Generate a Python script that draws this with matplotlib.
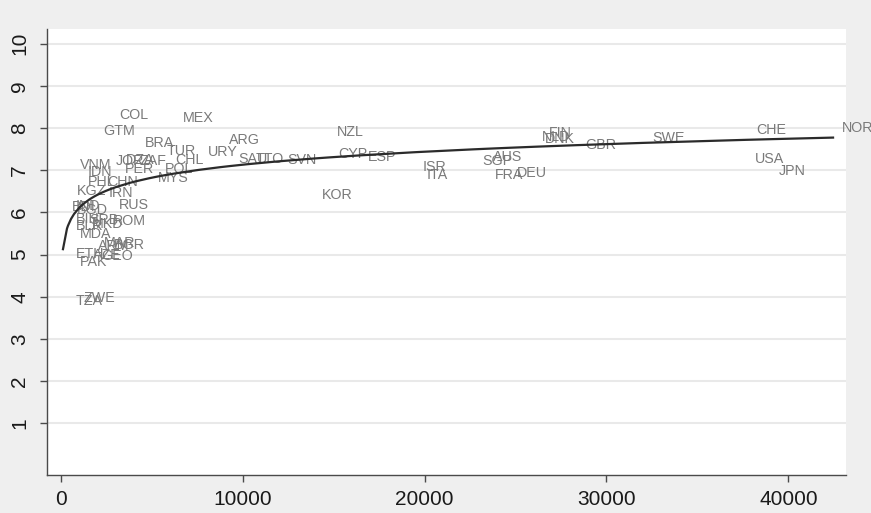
import matplotlib
matplotlib.use("Agg")
import matplotlib.pyplot as plt
import numpy as np

# GDP per capita (x), life satisfaction (y), country code labels
countries = [
    "COL", "MEX", "GTM", "NZL", "BRA", "ARG", "TUR", "URY", "CHL", "SAU",
    "TTO", "SVN", "CYP", "ESP", "VNM", "JOR", "DZA", "ZAF", "PER", "POL",
    "MYS", "IDN", "PHL", "CHN", "KGZ", "IRN", "RUS", "IND", "BDI", "BGD",
    "BIH", "SRB", "ROM", "BLR", "MKD", "MDA", "ARM", "MAR", "BGR", "ETH",
    "AZE", "GEO", "PAK", "ZWE", "TZA", "KOR", "ISR", "ITA", "SGP", "AUS",
    "FRA", "DEU", "FIN", "NLD", "DNK", "GBR", "SWE", "CHE", "USA", "JPN",
    "NOR",
]
gdp = [
    2695, 6215, 1815, 14685, 4125, 8745, 5335, 7590, 5775, 9240,
    10230, 11935, 14740, 16390, 550, 2530, 3080, 3795, 3025, 5225,
    4840, 990, 990, 2035, 385, 2145, 2695, 330, 110, 385,
    330, 1045, 2365, 330, 1210, 550, 1540, 1870, 2420, 330,
    1265, 1705, 550, 715, 330, 13860, 19415, 19635, 22660, 23265,
    23375, 24585, 26345, 25960, 26125, 28325, 32010, 37730, 37675, 38995,
    42460,
]
satisfaction = [
    8.31, 8.23, 7.93, 7.90, 7.64, 7.71, 7.45, 7.43, 7.24, 7.26,
    7.26, 7.24, 7.38, 7.31, 7.12, 7.22, 7.24, 7.22, 7.03, 7.03,
    6.81, 6.95, 6.72, 6.72, 6.50, 6.46, 6.17, 6.15, 6.13, 6.05,
    5.84, 5.82, 5.79, 5.68, 5.72, 5.49, 5.20, 5.27, 5.23, 5.01,
    4.99, 4.96, 4.82, 3.97, 3.90, 6.41, 7.07, 6.88, 7.22, 7.31,
    6.88, 6.93, 7.88, 7.78, 7.74, 7.59, 7.76, 7.95, 7.26, 6.98,
    8.00,
]

x = np.array(gdp, dtype=float)
y = np.array(satisfaction, dtype=float)

# log fit, drawn through the fitted values at each observation
b, a = np.polyfit(np.log(x), y, 1)
order = np.argsort(x)
fit = a + b * np.log(x[order])

fig = plt.figure(figsize=(8.71, 5.13), dpi=100, facecolor="#efefef")
ax = fig.add_axes([0.0536, 0.0741, 0.9177, 0.8688])
ax.set_facecolor("white")

for c, xi, yi in zip(countries, x, y):
    ax.annotate(c, (xi, yi), xytext=(6.5, 0), textcoords="offset points",
                ha="left", va="center", fontsize=10.3, color="#7a7a7a",
                family="Liberation Sans", annotation_clip=False)

ax.plot(x[order], fit, color="#2b2b2b", linewidth=1.6, zorder=3)

ax.set_xlim(-786, 43172)
ax.set_ylim(-0.225, 10.34)
ax.set_xticks([0, 10000, 20000, 30000, 40000])
ax.set_yticks(range(1, 11))
ax.grid(axis="y", color="#e9e9e9", linewidth=1.5)
ax.set_axisbelow(True)

for side in ("top", "right"):
    ax.spines[side].set_visible(False)
for side in ("left", "bottom"):
    ax.spines[side].set_color("#4a4a4a")
    ax.spines[side].set_linewidth(1.0)

ax.tick_params(axis="both", direction="out", length=5, width=1, color="#4a4a4a",
               labelcolor="#1a1a1a", labelsize=15)
ax.tick_params(axis="x", pad=6)
ax.tick_params(axis="y", pad=7.5)
for lbl in ax.get_yticklabels():
    lbl.set_rotation(90)
    lbl.set_va("center")
for lbl in ax.get_xticklabels() + ax.get_yticklabels():
    lbl.set_family("Liberation Sans")

fig.savefig("out.png", dpi=100, facecolor=fig.get_facecolor())
